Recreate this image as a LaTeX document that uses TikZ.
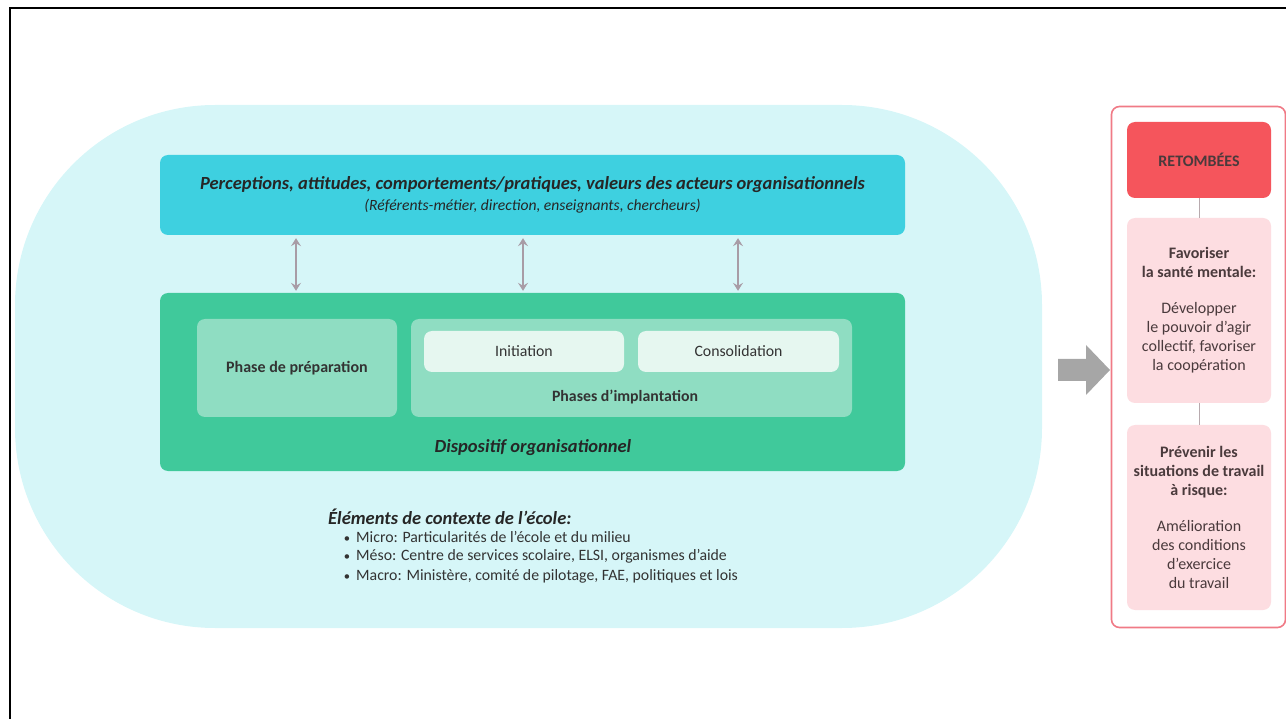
\documentclass[tikz,border=0pt]{standalone}
\usepackage{fontspec}
\setmainfont{Carlito}
\usetikzlibrary{arrows.meta,calc}
\definecolor{bgcyan}{HTML}{D6F6F8}
\definecolor{topcyan}{HTML}{3ED0E0}
\definecolor{grn}{HTML}{40C99B}
\definecolor{grnlight}{HTML}{8FDDC2}
\definecolor{grnpale}{HTML}{E6F7F0}
\definecolor{txt}{HTML}{333333}
\definecolor{arrowgray}{HTML}{A89CA6}
\definecolor{blockgray}{HTML}{A6A6A6}
\definecolor{panelred}{HTML}{F07A86}
\definecolor{retred}{HTML}{F5555C}
\definecolor{pinkbox}{HTML}{FDDDE1}
\definecolor{linegray}{HTML}{B8AAAE}
\definecolor{pinktxt}{HTML}{4A3A3C}
\tikzset{
  rbox/.style={rounded corners=8pt, inner sep=0pt, align=center},
  dbl/.style={arrowgray, line width=2.6pt, {Stealth[length=8pt,width=10pt,inset=3pt]}-{Stealth[length=8pt,width=10pt,inset=3pt]}},
  pinkb/.style={rbox, fill=pinkbox, minimum width=144pt, minimum height=185pt, text=pinktxt, font=\fontsize{16}{19}\selectfont},
  ctx/.style={anchor=west, text=txt, inner sep=0pt, font=\fontsize{15.8}{18}\selectfont}
}
\begin{document}
\begin{tikzpicture}[x=1pt,y=-1pt]
\useasboundingbox (0,0) rectangle (1286,719);
% frame
\draw[line width=2.6pt, black] (10,719) -- (10,8) -- (1286,8);
% background stadium
\fill[bgcyan, rounded corners=200pt] (15,105) rectangle (1042,628);
% top box
\node[rbox, fill=topcyan, minimum width=745pt, minimum height=80pt, text=black!85] (top) at (532.5,195) {};
\node[text=black!85, inner sep=0pt, font=\fontsize{18.5}{20}\selectfont\bfseries\itshape] (toplab1) at (532.5,185) {Perceptions, attitudes, comportements/pratiques, valeurs des acteurs organisationnels};
\node[text=black!85, inner sep=0pt, font=\fontsize{15.6}{17}\selectfont\itshape] (toplab2) at (532.5,206) {(Référents-métier, direction, enseignants, chercheurs)};
% green box
\node[rbox, fill=grn, minimum width=745pt, minimum height=178pt] (green) at (532.5,382) {};
\node[rbox, fill=grnlight, minimum width=200pt, minimum height=98pt, text=txt, font=\fontsize{16}{18}\selectfont\bfseries] (prep) at (297,368) {Phase de préparation};
\node[rbox, fill=grnlight, minimum width=441pt, minimum height=98pt] (impl) at (631.5,368) {};
\node[rbox, fill=grnpale, minimum width=200pt, minimum height=41pt, text=txt, font=\fontsize{15.8}{18}\selectfont] (init) at (524,351.5) {Initiation};
\node[rbox, fill=grnpale, minimum width=201pt, minimum height=41pt, text=txt, font=\fontsize{15.8}{18}\selectfont] (cons) at (738.5,351.5) {Consolidation};
\node[text=txt, font=\fontsize{15.8}{18}\selectfont\bfseries, inner sep=0pt] (impllab) at (625,397) {Phases d’implantation};
\node[text=black!85, font=\fontsize{18.5}{20}\selectfont\bfseries\itshape, inner sep=0pt] (displab) at (533,448) {Dispositif organisationnel};
% double arrows
\coordinate (c1) at (296,0);
\coordinate (c2) at (523,0);
\coordinate (c3) at (738,0);
\draw[dbl] ($(top.south -| c1)+(0,3)$) -- ($(green.north -| c1)+(0,-2)$);
\draw[dbl] ($(top.south -| c2)+(0,3)$) -- ($(green.north -| c2)+(0,-2)$);
\draw[dbl] ($(top.south -| c3)+(0,3)$) -- ($(green.north -| c3)+(0,-2)$);
% context text
\node[ctx, font=\fontsize{18.5}{20}\selectfont\bfseries\itshape, text=black!85] (ctxh) at (328,517) {Éléments de contexte de l’école:};
\node[ctx] (ctx1) at (356,537) {\llap{\scalebox{0.8}{•}\hspace{6pt}}Micro: Particularités de l’école et du milieu};
\node[ctx] (ctx2) at (356,556.5) {\llap{\scalebox{0.8}{•}\hspace{6pt}}Méso: Centre de services scolaire, ELSI, organismes d’aide};
\node[ctx] (ctx3) at (356,576) {\llap{\scalebox{0.8}{•}\hspace{6pt}}Macro: Ministère, comité de pilotage, FAE, politiques et lois};
% right panel
\node[rbox, draw=panelred, line width=1.6pt, fill=white, minimum width=174pt, minimum height=521pt] (panel) at (1198.5,367) {};
\node[rbox, fill=retred, minimum width=144pt, minimum height=76pt, text=pinktxt, font=\fontsize{16}{18}\selectfont\bfseries] (ret) at (1199,160) {RETOMBÉES};
\node[pinkb] (fav) at (1199,310.5) {\textbf{Favoriser}\\\textbf{la santé mentale:}\\[17pt]Développer\\le pouvoir d’agir\\collectif, favoriser\\la coopération};
\node[pinkb] (prev) at (1199,517.5) {\textbf{Prévenir les}\\\textbf{situations de travail}\\\textbf{à risque:}\\[17pt]Amélioration\\des conditions\\d’exercice\\du travail};
\draw[linegray, line width=1pt] (ret) -- (fav);
\draw[linegray, line width=1pt] (fav) -- (prev);
% block arrow
\coordinate (ba) at (1058,370);
\fill[blockgray] (ba) ++(0,-11) -- ++(28,0) -- ++(0,-14) -- ++(24,25) -- ++(-24,25) -- ++(0,-14) -- ++(-28,0) -- cycle;
\end{tikzpicture}
\end{document}
